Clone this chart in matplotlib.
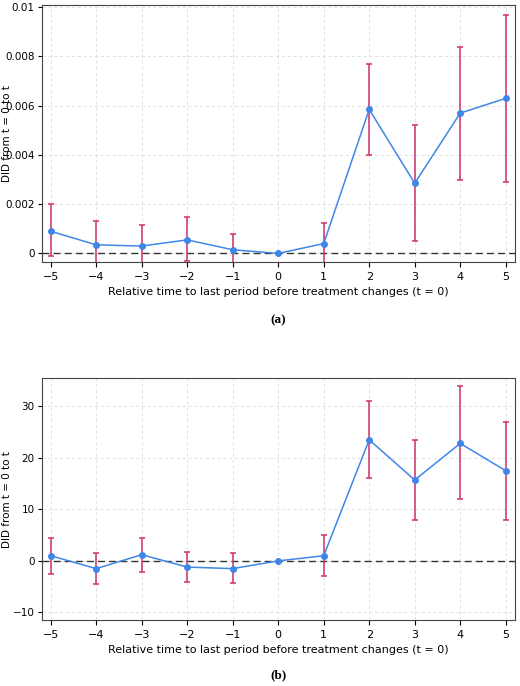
import matplotlib
matplotlib.use("Agg")
import matplotlib.pyplot as plt

t = [-5, -4, -3, -2, -1, 0, 1, 2, 3, 4, 5]
a_est = [0.0009, 0.00035, 0.0003, 0.00055, 0.00015, 0.0, 0.0004, 0.00585, 0.00285, 0.0057, 0.0063]
a_hi = [0.002, 0.0013, 0.00115, 0.0015, 0.0008, 0.0, 0.00125, 0.0077, 0.0052, 0.0084, 0.0097]
a_lo = [-0.0001, -0.0006, -0.0006, -0.0003, -0.0005, 0.0, -0.0004, 0.004, 0.0005, 0.003, 0.0029]
b_est = [1.0, -1.5, 1.2, -1.2, -1.5, 0.0, 1.0, 23.5, 15.7, 22.8, 17.5]
b_hi = [4.5, 1.5, 4.5, 1.8, 1.5, 0.0, 5.0, 31.0, 23.5, 34.0, 27.0]
b_lo = [-2.5, -4.5, -2.2, -4.0, -4.3, 0.0, -3.0, 16.0, 8.0, 12.0, 8.0]

fig = plt.figure(figsize=(5.2, 6.86), dpi=100)
axa = fig.add_axes([0.08, 0.618, 0.91, 0.375])
axb = fig.add_axes([0.08, 0.096, 0.91, 0.353])

def draw(ax, est, hi, lo, ylim, yticks, ylabels):
    for x, e, h, l in zip(t, est, hi, lo):
        if h != l:
            ax.errorbar([x], [e], yerr=[[e - l], [h - e]], fmt="none", ecolor="#d0306a",
                        elinewidth=1.1, capsize=2.5, capthick=1.1, zorder=2)
    ax.plot(t, est, color="#3f86e8", lw=1.1, marker="o", ms=4, zorder=3)
    ax.axhline(0, color="#333333", ls=(0, (5, 3)), lw=1, zorder=1)
    ax.set_xlim(-5.2, 5.2)
    ax.set_ylim(*ylim)
    ax.set_xticks(t)
    ax.set_xticklabels([f"\u2212{abs(v)}" if v < 0 else str(v) for v in t], fontsize=8)
    ax.set_yticks(yticks)
    ax.set_yticklabels(ylabels, fontsize=7.5)
    ax.tick_params(axis="y", pad=2, length=3)
    ax.grid(True, color="#dddddd", ls=(0, (4, 3)), lw=0.6)
    ax.set_axisbelow(True)
    ax.set_xlabel("Relative time to last period before treatment changes (t = 0)", fontsize=8)
    ax.set_ylabel("DID from t = 0 to t", fontsize=7.5)
    ax.yaxis.set_label_coords(-0.063, 0.5)
    for s in ax.spines.values():
        s.set_color("#444444"); s.set_linewidth(0.8)

draw(axa, a_est, a_hi, a_lo, (-0.00035, 0.0101),
     [0, 0.002, 0.004, 0.006, 0.008, 0.01], ["0", "0.002", "0.004", "0.006", "0.008", "0.01"])
draw(axb, b_est, b_hi, b_lo, (-11.5, 35.5),
     [-10, 0, 10, 20, 30], ["\u221210", "0", "10", "20", "30"])

fig.text(0.535, 0.533, "(a)", ha="center", va="center", fontsize=9.5, fontweight="bold", family="Liberation Serif")
fig.text(0.535, 0.015, "(b)", ha="center", va="center", fontsize=9.5, fontweight="bold", family="Liberation Serif")
fig.savefig("out.png", dpi=100)
